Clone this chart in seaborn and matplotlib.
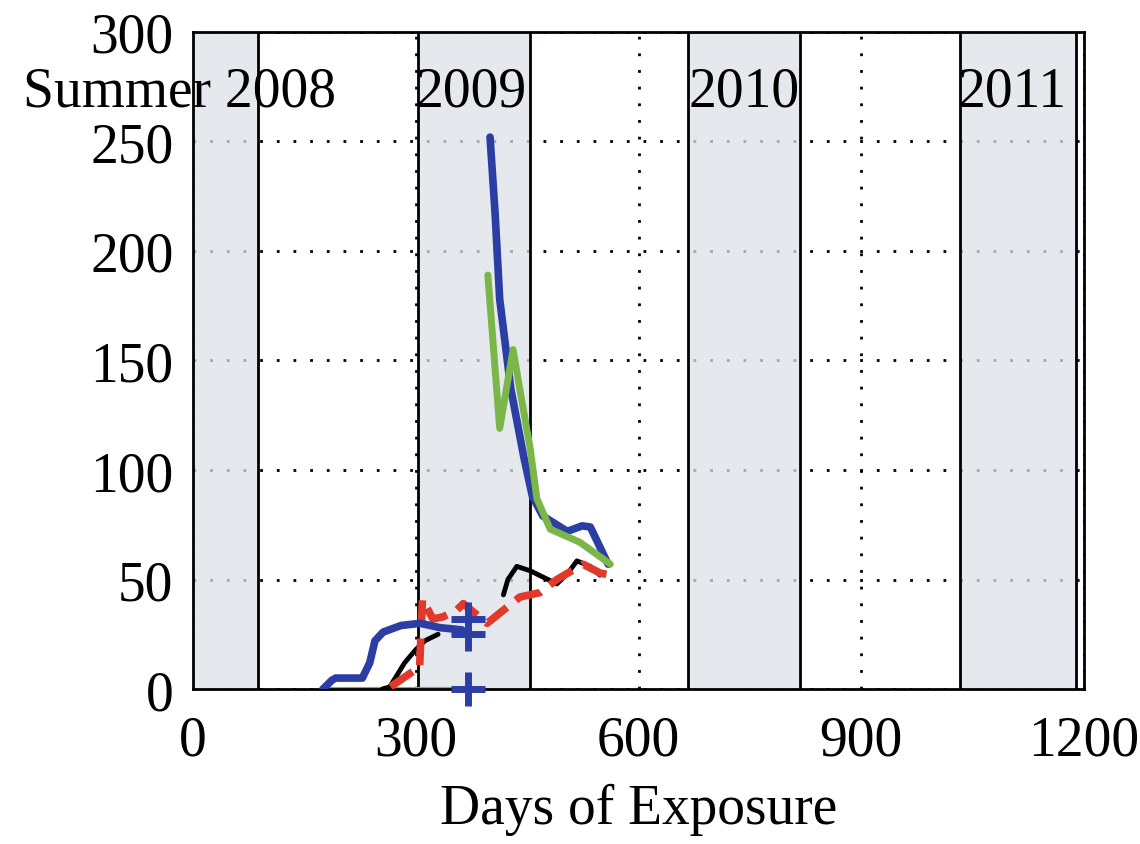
import matplotlib
matplotlib.use("Agg")
import matplotlib.pyplot as plt
import seaborn as sns

# values (days of exposure, value)
blue_early_days = [175, 187, 192, 228, 238, 245, 256, 280, 306, 333, 362]
blue_early_vals = [0, 4, 5, 5, 12, 22, 26, 29, 30, 28, 27]
blue_days = [400, 407, 413, 428, 446, 457, 471, 504, 524, 535, 559]
blue_vals = [252, 216, 178, 137, 105, 88, 79, 72, 74.5, 74, 57]

green_zero_days = [178, 373]
green_zero_vals = [0, 0]
green_days = [397, 413, 431, 440, 454, 463, 481, 521, 562]
green_vals = [189, 119, 155, 137, 110, 87, 73, 67, 57]

black_early_days = [255, 265, 285, 300, 312, 330]
black_early_vals = [0, 1, 12, 18, 22, 25]
black_days = [418, 424, 436, 454, 490, 505, 517, 535, 548]
black_vals = [43, 50, 56, 54, 48, 53, 58.5, 56, 52]

red_days = [266, 296, 305, 309, 323, 337, 355, 364, 396, 440, 467, 490, 525, 548, 562]
red_vals = [1, 8, 9, 41, 32, 33, 36, 39, 30, 42, 44, 50, 57, 53, 52]

plus_days = [370, 370, 370]
plus_vals = [32, 25, 0]

# shaded winter periods and their labels
bands = [(-60, 88), (303, 454), (667, 818), (1033, 1189)]
season_labels = ["Summer 2008", "2009", "2010", "2011"]
label_x = [-229, 299, 667, 1030]

x_ticks = [0, 300, 600, 900, 1200]
y_ticks = [0, 50, 100, 150, 200, 250, 300]

sns.set_style("white")
plt.rcParams["font.family"] = ["Liberation Serif", "DejaVu Serif"]
plt.rcParams["text.color"] = "black"
plt.rcParams["axes.labelcolor"] = "black"
plt.rcParams["xtick.color"] = "black"
plt.rcParams["ytick.color"] = "black"

fig = plt.figure(figsize=(11.4, 8.45), dpi=100)
ax = fig.add_axes([0.1693, 0.1834, 0.951 - 0.1693, 0.961 - 0.1834])

ax.set_xlim(0, 1200)
ax.set_ylim(0, 300)
ax.set_xticks(x_ticks)
ax.set_yticks(y_ticks)

# dotted grid underneath the shaded bands
ax.set_axisbelow(True)
ax.grid(True, color="black", linestyle=(0, (1, 5)), linewidth=2)

for lo, hi in bands:
    ax.axvspan(lo, hi, color="#dde2e8", alpha=0.75, zorder=1, lw=0)
    ax.axvline(lo, color="black", lw=2, zorder=1.5)
    ax.axvline(hi, color="black", lw=2, zorder=1.5)

blue = "#2b3ea3"
green = "#7ab648"
red = "#e2392b"

sns.lineplot(x=green_zero_days, y=green_zero_vals, ax=ax, color=green, lw=3, zorder=2)
sns.lineplot(x=black_early_days, y=black_early_vals, ax=ax, color="black", lw=3.5, zorder=2)
sns.lineplot(x=black_days, y=black_vals, ax=ax, color="black", lw=3.5, zorder=2)
sns.lineplot(x=red_days, y=red_vals, ax=ax, color=red, lw=5.5, zorder=3,
             linestyle=(0, (3.5, 1.5)))
sns.lineplot(x=blue_early_days, y=blue_early_vals, ax=ax, color=blue, lw=5.5, zorder=3)
sns.lineplot(x=blue_days, y=blue_vals, ax=ax, color=blue, lw=5.5, zorder=3)
sns.lineplot(x=green_days, y=green_vals, ax=ax, color=green, lw=5, zorder=3.5)
sns.scatterplot(x=plus_days, y=plus_vals, ax=ax, color=blue, marker="+", s=600,
                linewidth=5, zorder=4, clip_on=False)

for txt, xx in zip(season_labels, label_x):
    ax.text(xx, 273, txt, fontsize=40, ha="left", va="center", zorder=5, clip_on=False)

for side in ["left", "right", "top", "bottom"]:
    ax.spines[side].set_visible(True)
    ax.spines[side].set_color("black")
    ax.spines[side].set_linewidth(2)

ax.tick_params(axis="both", length=0, labelsize=40)
ax.tick_params(axis="y", pad=14)
ax.tick_params(axis="x", pad=18)
ax.set_xlabel("Days of Exposure", fontsize=40, labelpad=12)
ax.set_ylabel("")

fig.savefig("out.png", dpi=100)
